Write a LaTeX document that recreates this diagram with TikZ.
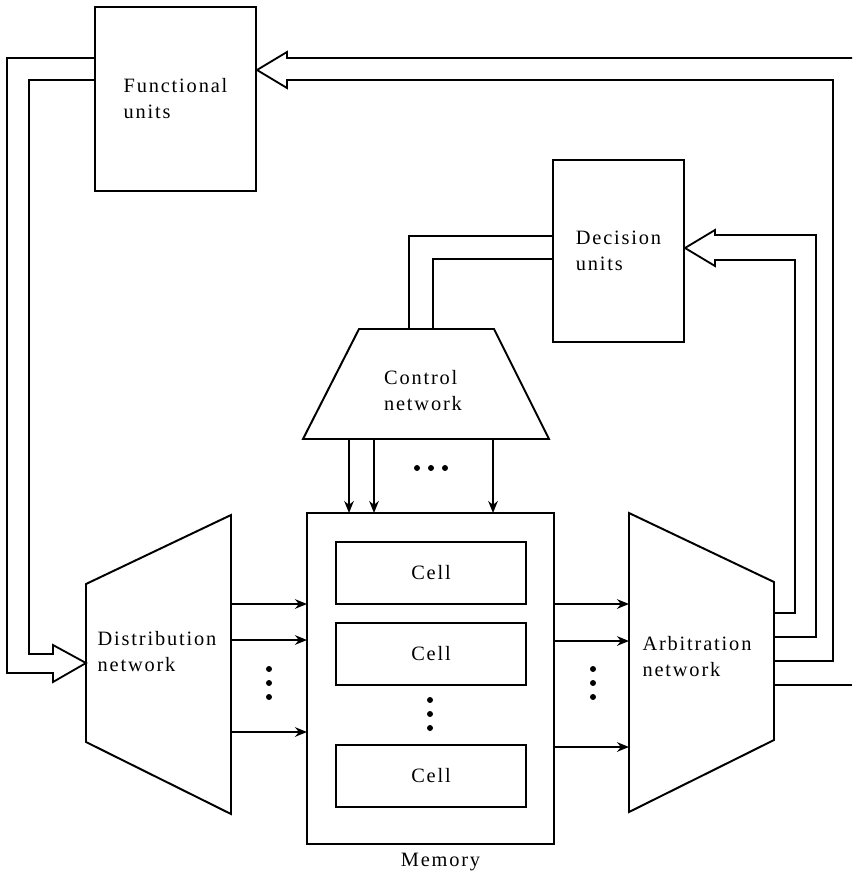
\documentclass[tikz,border=0pt]{standalone}
\usepackage{fontspec}
\setmainfont{Liberation Serif}[LetterSpace=9]
\usetikzlibrary{arrows.meta,positioning}
\tikzset{ubox/.style={
    rectangle,
    draw,
    line width=1.4pt,
    align=left,
    inner sep=0pt
  },
  cellbox/.style={ubox,minimum width=47.5mm,minimum height=15.5mm},
  netshape/.style={draw,line width=1.4pt,line join=miter},
  lbl/.style={align=left,inner sep=0pt},
  bus/.style={draw,line width=1.3pt,line join=miter},
  wire/.style={line width=1.3pt,-{Stealth[length=3mm,width=2.4mm]}},
  dotmark/.style={circle,fill=black,inner sep=0pt,minimum size=1.5mm},
}
\begin{document}
\begin{tikzpicture}[x=0.25mm,y=-0.25mm,font=\fontsize{14.5}{18.5}\selectfont]
  \useasboundingbox (0,0) rectangle (852,879);
  \node [ubox,minimum width=40.25mm,minimum height=46mm] (fu) at (175.5,99) {Functional\\units};
  \node [ubox,minimum width=32.75mm,minimum height=45.5mm] (du) at (618.5,251) {Decision\\units};
  \node [ubox,minimum width=61.75mm,minimum height=82.75mm] (mem) at (430.5,678.5) {};
  \node [below=2mm of mem.south,xshift=2.5mm,inner sep=0pt] (memlbl) {Memory};
  \node [cellbox] (cell1) at (431,573) {Cell};
  \node [cellbox] (cell2) at (431,654) {Cell};
  \node [cellbox] (cell3) at (431,776) {Cell};

  \coordinate (cn1) at (359,329);
  \coordinate (cn2) at (494,329);
  \coordinate (cn3) at (549,439);
  \coordinate (cn4) at (303,439);
  \draw [netshape] (cn1) -- (cn2) -- (cn3) -- (cn4) -- cycle;
  \node [lbl] (cnet) at (423,391) {Control\\network};

  \coordinate (dn1) at (86,584);
  \coordinate (dn2) at (231,515);
  \coordinate (dn3) at (231,814);
  \coordinate (dn4) at (86,742);
  \draw [netshape] (dn1) -- (dn2) -- (dn3) -- (dn4) -- cycle;
  \node [lbl] (dnet) at (157,652) {Distribution\\network};

  \coordinate (an1) at (629,513);
  \coordinate (an2) at (774,582);
  \coordinate (an3) at (774,740);
  \coordinate (an4) at (629,812);
  \draw [netshape] (an1) -- (an2) -- (an3) -- (an4) -- cycle;
  \node [lbl] (anet) at (697,657) {Arbitration\\network};

  \foreach \x in {349,374,493}
    \draw [wire] (\x,439) -- (\x,513);
  \foreach \y in {604,640,732}
    \draw [wire] (231,\y) -- (307,\y);
  \foreach \y in {604,641,747}
    \draw [wire] (554,\y) -- (629,\y);

  \foreach \x in {417,431,445}
    \node [dotmark] at (\x,468) {};
  \foreach \y in {669,683,697} {
    \node [dotmark] at (269,\y) {};
    \node [dotmark] at (593,\y) {};
  }
  \foreach \y in {700,714,728}
    \node [dotmark] at (430,\y) {};

  \draw [bus] (852,58) -- (287,58) -- (287,52) -- (fu.east |- 0,70) -- (287,88) -- (287,80)
    -- (833,80) -- (833,661) -- (an2 |- 0,661);
  \draw [bus] (an2 |- 0,685) -- (852,685);
  \draw [bus] (du.west |- 0,236) -- (409,236) -- (cn1 -| 409,0);
  \draw [bus] (du.west |- 0,259) -- (433,259) -- (cn1 -| 433,0);
  \draw [bus] (an2 |- 0,613) -- (795,613) -- (795,260) -- (715,260) -- (715,266)
    -- (du.east |- 0,248) -- (715,230) -- (715,235) -- (816,235) -- (816,637) -- (an2 |- 0,637);
  \draw [bus] (fu.west |- 0,58) -- (7,58) -- (7,673) -- (53,673) -- (53,682)
    -- (dn1 |- 0,663) -- (53,645) -- (53,654) -- (29,654) -- (29,80) -- (fu.west |- 0,80);
\end{tikzpicture}
\end{document}
